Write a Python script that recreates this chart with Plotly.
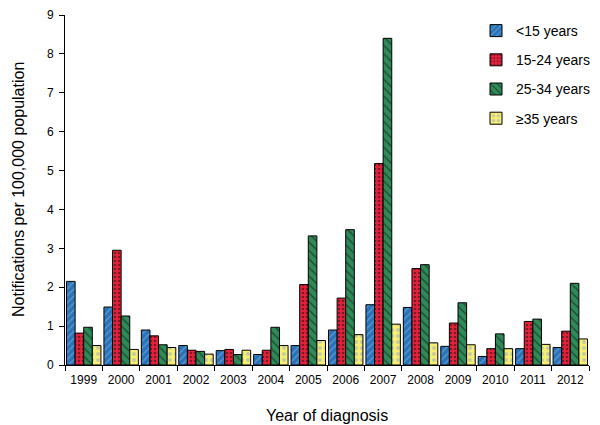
import plotly.graph_objects as go

years = ["1999","2000","2001","2002","2003","2004","2005","2006","2007","2008","2009","2010","2011","2012"]
under15 = [2.15,1.49,0.90,0.50,0.37,0.27,0.50,0.90,1.55,1.48,0.48,0.22,0.42,0.45]
age15_24 = [0.82,2.95,0.75,0.38,0.40,0.38,2.07,1.72,5.18,2.48,1.08,0.42,1.12,0.87]
age25_34 = [0.97,1.26,0.52,0.35,0.27,0.97,3.32,3.48,8.40,2.58,1.60,0.80,1.18,2.10]
age35plus = [0.50,0.40,0.45,0.28,0.38,0.50,0.63,0.78,1.05,0.57,0.52,0.42,0.53,0.67]
series_names = ["<15 years","15-24 years","25-34 years","≥35 years"]

styles = [
    dict(color="#2b73b8", shape="/", fg="#8cc4ee", size=5, solid=0.25),
    dict(color="#e8213b", shape=".", fg="#111111", size=4, solid=0.35),
    dict(color="#2e8b57", shape="\\", fg="#111111", size=6, solid=0.25),
    dict(color="#f7ef72", shape=".", fg="#9aa3c8", size=6, solid=0.35),
]

fig = go.Figure()
for name, vals, st in zip(series_names, [under15, age15_24, age25_34, age35plus], styles):
    fig.add_trace(go.Bar(
        x=years, y=vals, name=name, legendgroup=name,
        marker=dict(color=st["color"], line=dict(color="#000000", width=1),
                    pattern=dict(shape=st["shape"], fgcolor=st["fg"], size=st["size"], solidity=st["solid"])),
    ))

L, R, T, B = 65, 11, 15, 60
W, H = 600, 425
pw, ph = W - L - R, H - T - B

fig.update_layout(
    width=W, height=H,
    barmode="group", bargap=0.08, bargroupgap=0,
    paper_bgcolor="white", plot_bgcolor="white",
    margin=dict(l=L, r=R, t=T, b=B, autoexpand=False),
    font=dict(family="Liberation Sans, Arial, sans-serif", color="#000000"),
    legend=dict(x=(476 - L) / pw, y=1.0, xanchor="left", yanchor="top", font=dict(size=14),
                bgcolor="rgba(0,0,0,0)", tracegroupgap=8, itemwidth=30),
    xaxis=dict(showline=True, linecolor="#000", linewidth=1, ticks="outside", tickson="boundaries",
               ticklen=5, tickcolor="#000", tickfont=dict(size=12), automargin=False,
               ticklabelstandoff=4),
    yaxis=dict(range=[0, 9], dtick=1, showline=True, linecolor="#000", linewidth=1, ticks="outside",
               ticklen=5, tickcolor="#000", showgrid=False, zeroline=False, tickfont=dict(size=12),
               automargin=False, ticklabelstandoff=3),
    annotations=[
        dict(text="Year of diagnosis", xref="paper", yref="paper", x=0.5, y=-(415 - (H - B)) / ph,
             xanchor="center", yanchor="middle", showarrow=False, font=dict(size=16)),
        dict(text="Notifications per 100,000 population", xref="paper", yref="paper",
             x=-(L - 18) / pw, y=0.5, xanchor="center", yanchor="middle", textangle=-90,
             showarrow=False, font=dict(size=16)),
    ],
)

fig.write_html("out.html", post_script="document.body.style.margin='0';",
               config={"displayModeBar": False})
